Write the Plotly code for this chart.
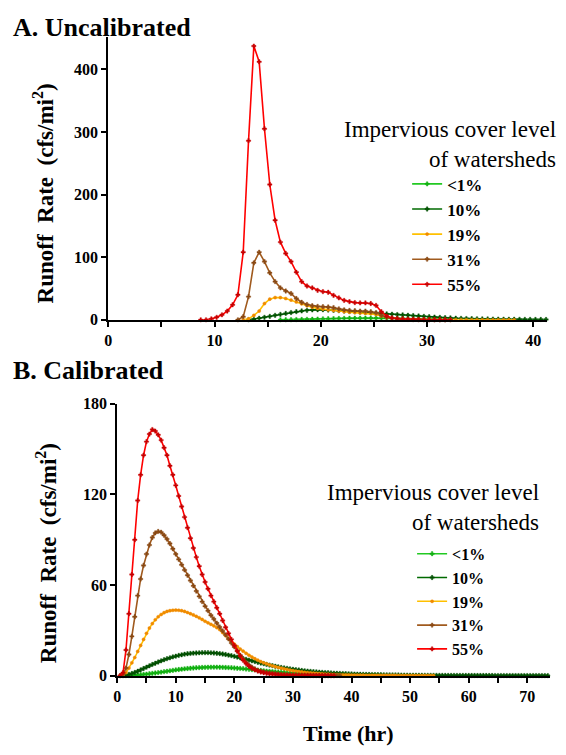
import plotly.graph_objects as go

STEP = 0.5  # hr between samples

labels = ["&lt;1%", "10%", "19%", "31%", "55%"]
line_colors = ["#22C922", "#006A00", "#FFC000", "#A05A1E", "#FF0000"]
marker_colors = ["#12B012", "#005000", "#F08A00", "#8A4A14", "#C80000"]

# ---------- Panel A: Uncalibrated ----------
a_start = [16.2, 13.2, 12.7, 12.2, 8.7]
a_lt1 = [0, 0.1, 0.2, 0.4, 0.6, 0.8, 1.0, 1.2, 1.5, 1.7, 1.9, 2.1, 2.3, 2.5, 2.6, 2.7, 2.8,
         2.8, 2.8, 2.7, 2.6, 2.5, 2.3, 2.1, 1.9, 1.7, 1.5, 1.3, 1.1, 0.9, 0.8, 0.6, 0.5]
a_10 = [0, 0.8, 2.5, 4, 5.5, 7.2, 8.7, 10.2, 11.6, 13, 14.2, 15.2, 15.8, 16.1, 16.1, 15.7, 15.2,
        14.6, 14, 13.4, 12.8, 12.2, 11.7, 11.1, 10.6, 10.1, 9.5, 9, 8.4, 7.9, 7.3, 6.7, 6.1, 5.5,
        4.9, 4.4, 3.9, 3.4, 3.0, 2.6, 2.3, 2.0, 1.8, 1.6, 1.4, 1.3, 1.2, 1.1, 1.0, 0.9, 0.85, 0.8,
        0.7, 0.65, 0.6, 0.55, 0.5]
a_19 = [0, 1.6, 7, 14, 26, 33, 35.5, 35.5, 34, 31.5, 28.6, 25.5, 22.5, 20, 18.3, 17.2, 16, 15, 14,
        13, 12, 11.5, 11, 10.5, 10, 8.5, 6, 4, 2.8, 2, 1.5, 1.1, 0.8, 0.6, 0.4, 0.3, 0.2, 0.15, 0.1,
        0.1, 0.08, 0.06, 0.05, 0.04, 0.03, 0.03, 0.02, 0.02, 0.01, 0.01, 0.01, 0.01]
a_31 = [0, 5, 37, 91, 108, 93, 75, 61, 51, 46, 42, 34, 28, 24.5, 22.5, 21.5, 21, 20.5, 19.5, 17.5,
        16, 15, 14.6, 14, 14, 13, 11.5, 7, 4, 2.5, 1.5, 1, 0.6, 0.4, 0.2, 0.1, 0, 0, 0, 0]
a_55 = [0, 0, 1.5, 4, 8, 14, 24, 40, 108, 286, 437, 412, 305, 216, 159, 124, 106, 93, 76, 61, 54,
        51, 47, 45, 44, 39, 35, 31, 29, 27.5, 27, 27, 26, 23, 13, 6, 3, 2, 1.5, 1, 0.7, 0.5, 0.3,
        0.2, 0.1, 0.05, 0, 0]
a_series = [a_lt1, a_10, a_19, a_31, a_55]

# ---------- Panel B: Calibrated ----------
b_start = [1.5, 1.0, 0.5, 0.5, 0.5]
b_lt1 = [0, 0.05, 0.12, 0.25, 0.4, 0.6, 0.8, 1.0, 1.25, 1.5, 1.75, 2.0, 2.3, 2.6, 2.9, 3.2, 3.5,
         3.8, 4.05, 4.3, 4.5, 4.7, 4.9, 5.05, 5.2, 5.3, 5.4, 5.5, 5.55, 5.6, 5.6, 5.6, 5.55, 5.5,
         5.4, 5.3, 5.2, 5.05, 4.9, 4.75, 4.6, 4.4, 4.2, 4.0, 3.8, 3.6, 3.4, 3.2, 3.0, 2.85, 2.7,
         2.5, 2.35, 2.2, 2.05, 1.9, 1.75, 1.6, 1.5, 1.4, 1.3, 1.2, 1.1, 1.0, 0.95, 0.9, 0.85, 0.8,
         0.75, 0.7, 0.65, 0.6, 0.55, 0.5, 0.47, 0.44, 0.41, 0.38, 0.35, 0.32, 0.3, 0.28, 0.26,
         0.24, 0.22, 0.2, 0.18, 0.17]
b_10 = [0, 0.3, 0.8, 1.4, 2.1, 2.9, 3.8, 4.7, 5.6, 6.5, 7.4, 8.2, 9.0, 9.8, 10.5, 11.2, 11.8,
        12.4, 12.9, 13.4, 13.8, 14.2, 14.5, 14.7, 14.9, 15.0, 15.1, 15.2, 15.2, 15.2, 15.1, 15.0,
        14.8, 14.6, 14.3, 14.0, 13.6, 13.2, 12.8, 12.3, 11.8, 11.3, 10.8, 10.3, 9.8, 9.3, 8.8,
        8.3, 7.9, 7.4, 7.0, 6.6, 6.2, 5.8, 5.4, 5.1, 4.8, 4.5, 4.2, 3.9, 3.7, 3.4, 3.2, 3.0, 2.8,
        2.6, 2.45, 2.3, 2.15, 2.0, 1.9, 1.75, 1.65, 1.55, 1.45, 1.35, 1.27, 1.19, 1.1, 1.03, 0.97,
        0.9, 0.85, 0.8, 0.75, 0.7, 0.65, 0.61, 0.57, 0.54, 0.5, 0.47, 0.44, 0.41, 0.39, 0.36,
        0.34, 0.32, 0.3, 0.28, 0.26, 0.25, 0.23, 0.22, 0.2, 0.19, 0.18, 0.17, 0.16, 0.15, 0.14,
        0.13, 0.12, 0.12, 0.11, 0.1, 0.1, 0.09, 0.09, 0.08, 0.08, 0.07, 0.07, 0.07, 0.06, 0.06,
        0.06, 0.05, 0.05, 0.05, 0.05, 0.04, 0.04, 0.04, 0.04, 0.04, 0.03, 0.03, 0.03, 0.03, 0.03,
        0.03, 0.02, 0.02, 0.02, 0.02]
b_19 = [0, 0.5, 2, 5, 8.5, 12, 16, 20, 24, 28, 31.5, 34.5, 37, 39, 40.5, 41.7, 42.5, 43, 43.3,
        43.4, 43.3, 43, 42.5, 41.8, 41, 40.2, 39.3, 38.3, 37.2, 36, 35, 34, 33, 31.8, 30.5, 28.5,
        26.5, 24.5, 22.5, 20.8, 19.2, 17.6, 16.2, 14.8, 13.5, 12.3, 11.2, 10.2, 9.3, 8.5, 7.8,
        7.1, 6.5, 5.9, 5.4, 4.9, 4.5, 4.1, 3.7, 3.3, 3.0, 2.7, 2.45, 2.2, 2.0, 1.8, 1.6, 1.45,
        1.3, 1.15, 1.05, 0.95, 0.85, 0.75, 0.68, 0.6, 0.55, 0.5, 0.46, 0.42, 0.38, 0.35, 0.32,
        0.29, 0.26, 0.24, 0.22, 0.2, 0.18, 0.16, 0.15, 0.13, 0.12, 0.11, 0.1, 0.09, 0.08, 0.07,
        0.07, 0.06, 0.05, 0.05, 0.04, 0.04, 0.03, 0.03, 0.03, 0.02]
b_31 = [0, 1, 5, 14, 26, 39, 53, 64, 73, 80.5, 86.5, 91.5, 94.5, 95.5, 95, 93, 90.5, 87.5, 84,
        80.5, 77, 73.5, 70, 66.5, 63, 59.5, 56, 52.5, 49, 46, 43, 40, 37.5, 34.8, 32.2, 29.6, 27,
        24.3, 21.6, 19, 16.3, 13.5, 11, 8.8, 7, 5.6, 4.5, 3.6, 3.0, 2.5, 2.1, 1.8, 1.5, 1.3, 1.1,
        0.95, 0.8, 0.7, 0.6, 0.5, 0.45, 0.4, 0.35, 0.3, 0.27, 0.24, 0.21, 0.18, 0.16, 0.14, 0.12,
        0.1, 0.09, 0.08, 0.07, 0.06]
b_55 = [0, 2, 17, 41, 67, 90, 116, 133, 146, 155, 160, 163, 162, 159.5, 156, 151, 146, 139, 133,
        126, 119, 112, 105, 98, 91, 84.5, 78.5, 72.5, 67, 62, 57.5, 53, 49, 45, 41, 36.5, 32, 28,
        24, 20, 16.3, 13, 10.2, 8, 6.2, 4.8, 3.8, 3.0, 2.4, 1.9, 1.5, 1.2, 1.0, 0.8, 0.6, 0.5, 0.4,
        0.3, 0.25, 0.2, 0.15, 0.12, 0.1, 0.08, 0.06, 0.05, 0.04, 0.03, 0.03, 0.02, 0.02, 0.01,
        0.01, 0.01]
b_series = [b_lt1, b_10, b_19, b_31, b_55]

a_xticks = [0, 10, 20, 30, 40]
a_yticks = [0, 100, 200, 300, 400]
b_xticks = [0, 10, 20, 30, 40, 50, 60, 70]
b_yticks = [0, 60, 120, 180]

FONT = "Liberation Serif"
W, H = 566, 755

fig = go.Figure()


def add_panel(series, starts, xa, ya, legend):
    for i, vals in enumerate(series):
        t = [round(starts[i] + STEP * k, 2) for k in range(len(vals))]
        sym = "circle" if i == 2 else "cross"
        fig.add_trace(go.Scatter(
            x=t, y=list(vals), mode="lines+markers", name="<b>" + labels[i] + "</b>",
            xaxis=xa, yaxis=ya, legend=legend, cliponaxis=False,
            line=dict(color=line_colors[i], width=1.6),
            marker=dict(symbol=sym, size=3.2 if i == 2 else 3.6, color=marker_colors[i],
                        line=dict(width=0.4, color=marker_colors[i])),
        ))


add_panel(a_series, a_start, "x", "y", "legend")
add_panel(b_series, b_start, "x2", "y2", "legend2")


def px_x(p):
    return p / W


def px_y(p):
    return 1 - p / H


def bold_ticks(vals):
    return ["<b>%d</b>" % v for v in vals]


tickfont = dict(family=FONT, size=16, color="black")
axis_common = dict(showline=True, linecolor="black", linewidth=2, ticks="outside",
                   ticklen=5, tickwidth=1.5, tickcolor="black", showgrid=False,
                   zeroline=False, tickfont=tickfont)
minor = dict(dtick=5, tick0=0, ticks="outside", ticklen=5, tickwidth=1.5, tickcolor="black")

fig.update_layout(
    width=W, height=H, margin=dict(l=0, r=0, t=0, b=0),
    paper_bgcolor="white", plot_bgcolor="white",
    font=dict(family=FONT, color="black"),
    xaxis=dict(domain=[px_x(105), px_x(547)], range=[0, 41.3], anchor="y",
               tickvals=a_xticks, ticktext=bold_ticks(a_xticks), minor=minor, **axis_common),
    yaxis=dict(domain=[px_y(319), px_y(30)], range=[0, 451], anchor="x",
               tickvals=a_yticks, ticktext=bold_ticks(a_yticks), **axis_common),
    xaxis2=dict(domain=[px_x(114), px_x(550)], range=[0, 73.9], anchor="y2",
                tickvals=b_xticks, ticktext=bold_ticks(b_xticks), minor=minor, **axis_common),
    yaxis2=dict(domain=[px_y(683), px_y(405)], range=[0, 180], anchor="x2",
                tickvals=b_yticks, ticktext=bold_ticks(b_yticks), **axis_common),
    legend=dict(x=px_x(406), y=px_y(162), xanchor="left", yanchor="top",
                bgcolor="rgba(0,0,0,0)", itemwidth=30,
                font=dict(family=FONT, size=17, color="black")),
    legend2=dict(x=px_x(411), y=px_y(541), xanchor="left", yanchor="top",
                 bgcolor="rgba(0,0,0,0)", itemwidth=30,
                 font=dict(family=FONT, size=16, color="black")),
)

ann = [
    dict(text="<b>A. Uncalibrated</b>", x=px_x(7), y=px_y(20), xanchor="left",
         yanchor="middle", font=dict(family=FONT, size=26, color="black")),
    dict(text="<b>B. Calibrated</b>", x=px_x(7), y=px_y(371), xanchor="left",
         yanchor="middle", font=dict(family=FONT, size=26, color="black")),
    dict(text="<b>Runoff  Rate  (cfs/mi<sup>2</sup>)</b>", x=px_x(40), y=px_y(190),
         textangle=-90, xanchor="center", yanchor="middle",
         font=dict(family=FONT, size=23, color="black")),
    dict(text="<b>Runoff  Rate  (cfs/mi<sup>2</sup>)</b>", x=px_x(43), y=px_y(558),
         textangle=-90, xanchor="center", yanchor="middle",
         font=dict(family=FONT, size=23, color="black")),
    dict(text="<b>Time (hr)</b>", x=px_x(347), y=px_y(742), xanchor="center",
         yanchor="middle", font=dict(family=FONT, size=22, color="black")),
    dict(text="Impervious cover level<br>of watersheds", x=px_x(558), y=px_y(140),
         xanchor="right", yanchor="middle", align="right",
         font=dict(family=FONT, size=23, color="black")),
    dict(text="Impervious cover level<br>of watersheds", x=px_x(541), y=px_y(511),
         xanchor="right", yanchor="middle", align="right",
         font=dict(family=FONT, size=23, color="black")),
]
for a in ann:
    a.update(xref="paper", yref="paper", showarrow=False)
fig.update_layout(annotations=ann)

fig.write_html("out.html")
